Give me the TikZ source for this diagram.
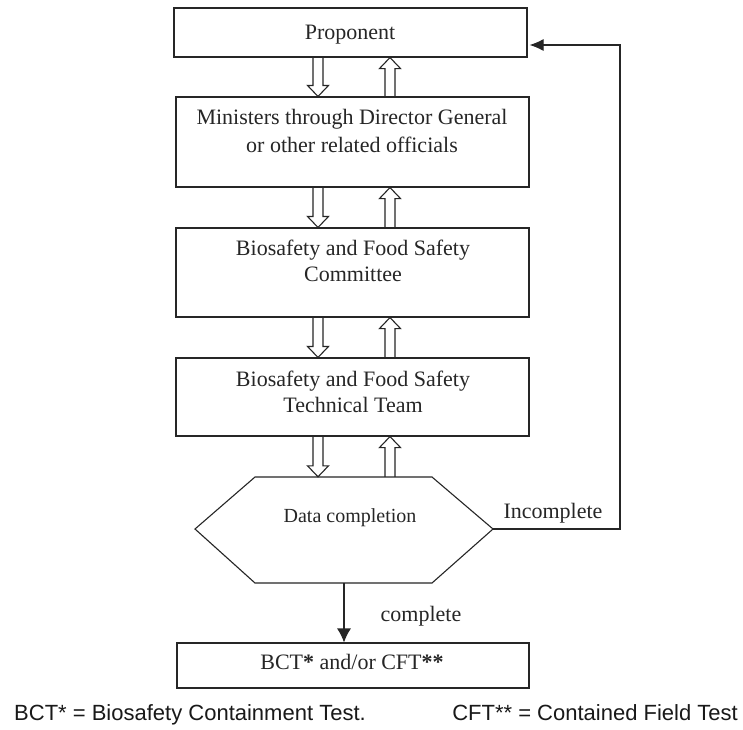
\documentclass[tikz,border=0pt]{standalone}
\usepackage{fontspec}
\setmainfont{Liberation Serif}
\newfontfamily\footfont{Liberation Sans}
\usetikzlibrary{arrows.meta,calc}
\tikzset{
  boxnode/.style={draw=black!85, line width=1.1pt, rectangle, inner sep=0pt},
  lbl/.style={font=\fontsize{22}{28}\selectfont, align=center, inner sep=0pt, text=black!85},
  blockarr/.style={draw=black!85, line width=1.1pt, line join=miter},
  conn/.style={draw=black!85, line width=1.1pt},
  foot/.style={font=\footfont\fontsize{22}{26}\selectfont, inner sep=0pt, text=black!90}
}
\newcommand{\hdown}[3]{%
  \path let \p1=(#2.south), \p2=(#3.north) in
   [blockarr] (#1-5,\y1) -- (#1-5,\y2+11) -- (#1-10.5,\y2+11) -- (#1,\y2) -- (#1+10.5,\y2+11) -- (#1+5,\y2+11) -- (#1+5,\y1);}
\newcommand{\hup}[3]{%
  \path let \p1=(#2.north), \p2=(#3.south) in
   [blockarr] (#1-5,\y1) -- (#1-5,\y2-11) -- (#1-10.5,\y2-11) -- (#1,\y2) -- (#1+10.5,\y2-11) -- (#1+5,\y2-11) -- (#1+5,\y1);}
\begin{document}
\begin{tikzpicture}[x=1pt,y=1pt]
\useasboundingbox (0,0) rectangle (743,-729);
\fill[white] (0,0) rectangle (743,-729);
% boxes
\node[boxnode, minimum width=353pt, minimum height=49pt] (b1) at (350.5,-32.5) {};
\node[boxnode, minimum width=353pt, minimum height=90pt] (b2) at (352.5,-142) {};
\node[boxnode, minimum width=353pt, minimum height=89pt] (b3) at (352.5,-272.5) {};
\node[boxnode, minimum width=353pt, minimum height=78pt] (b4) at (352.5,-397) {};
\node[boxnode, minimum width=352pt, minimum height=45pt] (b5) at (353,-665.5) {};
% texts
\node[lbl] (t1) at (350,-35) {Proponent};
\node[lbl] (t2) at (352,-131) {Ministers through Director General\\or other related officials};
\node[lbl, font=\fontsize{22}{26}\selectfont] (t3) at (353,-261) {Biosafety and Food Safety\\Committee};
\node[lbl, font=\fontsize{22}{25.5}\selectfont] (t4) at (353,-392) {Biosafety and Food Safety\\Technical Team};
\node[lbl] (t5) at (352,-662) {BCT\textbf{*} and/or CFT\textbf{**}};
% hexagon
\coordinate (hL) at (195,-529);
\coordinate (hTL) at (255,-477);
\coordinate (hTR) at (432,-477);
\coordinate (hR) at (493,-529);
\coordinate (hBR) at (432,-583);
\coordinate (hBL) at (255,-583);
\coordinate (hB) at (344,-583);
\draw[conn] (hL) -- (hTL) -- (hTR) -- (hR) -- (hBR) -- (hBL) -- cycle;
\node[inner sep=0pt, minimum width=178pt, minimum height=0pt] (hex) at (344,-477) {};
\node[lbl, font=\fontsize{20}{24}\selectfont] (th) at (350,-518) {Data completion};
% block arrows
\hdown{318}{b1}{b2}
\hup{390}{b2}{b1}
\hdown{318}{b2}{b3}
\hup{390}{b3}{b2}
\hdown{318}{b3}{b4}
\hup{390}{b4}{b3}
\hdown{318}{b4}{hex}
\hup{390}{hex}{b4}
% connectors
\draw[conn, -{Latex[length=14pt,width=14pt]}] (hB) -- (hB |- b5.north);
\draw[conn, -{Latex[length=14pt,width=12pt]}] (hR) -- (620,-529) |- ([xshift=2pt,yshift=-12.5pt]b1.east);
\node[lbl] (inc) at (553,-513) {Incomplete};
\node[lbl] (comp) at (421,-616) {complete};
% footer
\node[foot, anchor=base west] (f1) at (14,-720) {BCT* = Biosafety Containment Test.};
\node[foot, anchor=base east] (f2) at (738,-720) {CFT** = Contained Field Test};
\end{tikzpicture}
\end{document}
